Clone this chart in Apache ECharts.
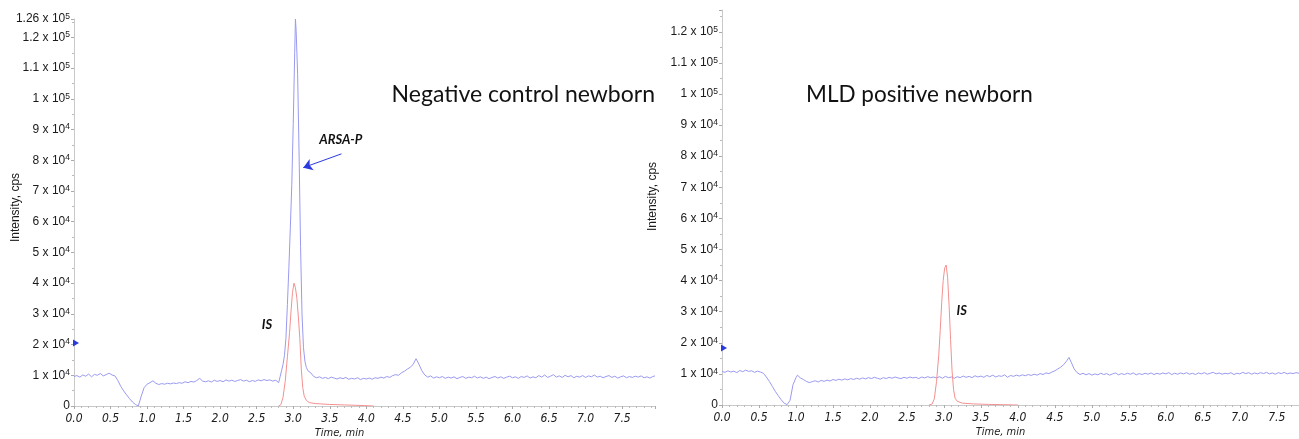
<!DOCTYPE html>
<html>
<head>
<meta charset="utf-8">
<script src="https://cdn.jsdelivr.net/npm/echarts@6/dist/echarts.min.js"></script>
<style>
html,body{margin:0;padding:0;background:#fff;}
#c{width:1299px;height:439px;}
</style>
</head>
<body>
<div id="c"></div>
<script>
// Intensity values in thousands of cps (k cps); time in minutes
const leftBlue = [
[0.00,9.6],[0.04,9.9],[0.08,9.4],[0.12,10.1],[0.16,9.7],[0.20,10.4],[0.24,9.5],[0.28,10.3],[0.32,10.0],[0.36,10.6],
[0.40,9.8],[0.44,10.2],[0.48,10.7],[0.52,10.1],[0.56,9.8],[0.60,8.3],[0.64,6.4],[0.68,4.9],[0.72,3.6],[0.76,2.4],
[0.80,1.3],[0.84,0.5],[0.88,0.0],[0.92,3.2],[0.96,6.0],[1.00,7.1],[1.04,7.6],[1.08,8.2],[1.12,7.4],[1.16,7.0],
[1.20,7.3],[1.24,7.1],[1.28,7.4],[1.32,7.2],[1.36,7.5],[1.40,7.3],[1.44,7.6],[1.48,7.4],[1.52,7.9],[1.56,7.6],
[1.60,8.0],[1.64,7.8],[1.68,8.3],[1.72,9.0],[1.76,8.1],[1.80,7.9],[1.84,8.2],[1.88,7.8],[1.92,8.4],[1.96,8.0],
[2.00,8.3],[2.04,7.9],[2.08,8.5],[2.12,8.1],[2.16,8.4],[2.20,8.0],[2.24,8.3],[2.28,8.6],[2.32,8.1],[2.36,8.4],
[2.40,7.9],[2.44,8.3],[2.48,8.0],[2.52,8.5],[2.56,8.2],[2.60,8.6],[2.64,8.3],[2.68,8.5],[2.72,8.1],[2.76,8.4],
[2.80,7.6],[2.82,9.5],[2.84,11.5],[2.86,13.5],[2.88,16.5],[2.90,22],[2.92,33],[2.94,45],[2.96,58],[2.98,72],
[3.00,92],[3.02,115],[3.03,126],[3.04,122],[3.06,108],[3.08,82],[3.10,52],[3.12,30],[3.14,19],[3.16,14.5],
[3.18,12.5],[3.20,11.5],[3.24,10.8],[3.28,9.6],[3.32,9.2],[3.36,9.5],[3.40,9.0],[3.44,9.3],[3.48,8.9],[3.52,9.4],
[3.56,9.1],[3.60,8.8],[3.64,9.2],[3.68,8.9],[3.72,9.3],[3.76,8.7],[3.80,9.0],[3.84,8.8],[3.88,9.2],[3.92,8.6],
[3.96,9.0],[4.00,8.8],[4.04,9.1],[4.08,8.7],[4.12,9.2],[4.16,9.0],[4.20,9.4],[4.24,9.1],[4.28,9.6],[4.32,9.3],
[4.36,9.9],[4.40,10.2],[4.44,10.0],[4.48,10.8],[4.52,11.3],[4.56,12.0],[4.60,12.6],[4.64,13.5],[4.68,15.4],[4.72,13.6],
[4.76,11.5],[4.80,10.1],[4.84,9.4],[4.88,9.8],[4.92,9.1],[4.96,9.5],[5.00,9.2],[5.04,9.6],[5.08,9.0],[5.12,9.4],
[5.16,9.1],[5.20,9.5],[5.24,8.9],[5.28,9.3],[5.32,9.6],[5.36,9.0],[5.40,9.4],[5.44,9.2],[5.48,9.7],[5.52,9.1],
[5.56,9.5],[5.60,9.0],[5.64,9.4],[5.68,8.9],[5.72,9.3],[5.76,9.6],[5.80,9.1],[5.84,9.5],[5.88,9.0],[5.92,9.4],
[5.96,9.7],[6.00,9.2],[6.04,9.5],[6.08,9.0],[6.12,9.6],[6.16,9.3],[6.20,9.8],[6.24,9.1],[6.28,9.5],[6.32,9.2],
[6.36,9.9],[6.40,9.4],[6.44,10.1],[6.48,9.3],[6.52,9.7],[6.56,10.2],[6.60,9.4],[6.64,9.8],[6.68,9.3],[6.72,10.0],
[6.76,9.5],[6.80,9.9],[6.84,9.2],[6.88,9.7],[6.92,9.4],[6.96,9.9],[7.00,9.3],[7.04,9.8],[7.08,9.5],[7.12,10.1],
[7.16,9.4],[7.20,9.7],[7.24,9.2],[7.28,9.6],[7.32,9.9],[7.36,9.3],[7.40,9.7],[7.44,9.1],[7.48,9.5],[7.52,9.8],
[7.56,9.2],[7.60,9.6],[7.64,9.3],[7.68,9.7],[7.72,9.4],[7.76,9.8],[7.80,9.2],[7.84,9.5],[7.88,9.1],[7.92,9.6],[7.95,9.8]
];
const leftRed = [
[2.80,0],[2.83,0.4],[2.86,2.8],[2.89,8],[2.92,16],[2.95,24],[2.97,31],[2.99,37],[3.01,40],[3.03,38.5],
[3.05,35],[3.07,29],[3.09,22],[3.11,12],[3.13,6],[3.15,3.2],[3.18,1.8],[3.22,1.1],[3.30,0.8],[3.50,0.5],
[3.70,0.35],[3.90,0.2],[4.10,0]
];
const rightBlue = [
[0.00,10.8],[0.04,10.5],[0.08,11.0],[0.12,10.6],[0.16,10.9],[0.20,10.4],[0.24,11.1],[0.28,10.7],[0.32,11.2],[0.36,10.8],
[0.40,11.0],[0.44,10.5],[0.48,10.9],[0.52,10.6],[0.56,10.2],[0.60,9.0],[0.64,7.6],[0.68,6.0],[0.72,4.4],[0.76,3.0],
[0.80,1.7],[0.84,0.6],[0.88,0.1],[0.92,1.5],[0.96,6.5],[1.00,8.8],[1.02,9.6],[1.06,8.7],[1.10,8.2],[1.14,7.6],
[1.18,7.2],[1.22,7.5],[1.26,7.8],[1.30,7.4],[1.34,7.9],[1.38,7.6],[1.42,8.0],[1.46,7.7],[1.50,8.2],[1.54,7.9],
[1.58,8.3],[1.62,8.0],[1.66,8.4],[1.70,8.1],[1.74,8.5],[1.78,8.2],[1.82,8.6],[1.86,8.3],[1.90,8.7],[1.94,8.4],
[1.98,8.8],[2.02,8.5],[2.06,8.9],[2.10,8.6],[2.14,8.3],[2.18,8.8],[2.22,8.5],[2.26,8.9],[2.30,8.6],[2.34,9.0],
[2.38,8.7],[2.42,8.5],[2.46,8.9],[2.50,8.6],[2.54,9.0],[2.58,8.7],[2.62,8.9],[2.66,8.5],[2.70,9.0],[2.74,8.7],
[2.78,9.1],[2.82,8.8],[2.86,9.0],[2.90,8.7],[2.94,9.1],[2.98,8.6],[3.02,9.2],[3.06,8.8],[3.10,9.0],[3.14,8.6],
[3.18,9.1],[3.22,8.8],[3.26,9.3],[3.30,8.9],[3.34,9.2],[3.38,8.8],[3.42,9.4],[3.46,9.0],[3.50,9.3],[3.54,8.9],
[3.58,9.5],[3.62,9.1],[3.66,9.6],[3.70,9.0],[3.74,9.4],[3.78,9.2],[3.82,9.7],[3.86,8.9],[3.90,9.5],[3.94,9.2],
[3.98,9.6],[4.02,9.3],[4.06,9.7],[4.10,9.4],[4.14,9.8],[4.18,9.5],[4.22,9.9],[4.26,9.6],[4.30,10.1],[4.34,9.8],
[4.38,10.3],[4.42,10.1],[4.46,10.6],[4.50,11.0],[4.54,11.6],[4.58,12.2],[4.62,13.0],[4.66,14.2],[4.69,15.3],[4.72,13.8],
[4.76,11.6],[4.80,10.4],[4.84,9.8],[4.88,10.2],[4.92,9.7],[4.96,10.1],[5.00,9.6],[5.04,10.0],[5.08,9.7],[5.12,10.2],
[5.16,9.8],[5.20,10.1],[5.24,9.6],[5.28,10.0],[5.32,10.3],[5.36,9.7],[5.40,10.1],[5.44,9.8],[5.48,10.2],[5.52,9.9],
[5.56,10.3],[5.60,9.7],[5.64,10.1],[5.68,9.8],[5.72,10.2],[5.76,9.9],[5.80,10.3],[5.84,9.8],[5.88,10.2],[5.92,9.9],
[5.96,10.3],[6.00,10.0],[6.04,10.4],[6.08,9.8],[6.12,10.2],[6.16,9.9],[6.20,10.3],[6.24,10.0],[6.28,10.4],[6.32,9.9],
[6.36,10.2],[6.40,9.8],[6.44,10.3],[6.48,10.0],[6.52,10.4],[6.56,9.9],[6.60,10.2],[6.64,10.5],[6.68,10.0],[6.72,10.3],
[6.76,9.9],[6.80,10.2],[6.84,10.0],[6.88,10.4],[6.92,9.8],[6.96,10.2],[7.00,10.0],[7.04,10.5],[7.08,10.1],[7.12,10.4],
[7.16,9.9],[7.20,10.3],[7.24,10.0],[7.28,10.4],[7.32,10.1],[7.36,10.5],[7.40,10.0],[7.44,10.3],[7.48,9.9],[7.52,10.4],
[7.56,10.1],[7.60,10.5],[7.64,10.0],[7.68,10.3],[7.72,10.1],[7.76,10.4],[7.80,10.2]
];
const rightRed = [
[2.80,0],[2.84,0.3],[2.87,2.0],[2.90,7.5],[2.93,16],[2.95,24],[2.97,33],[2.99,40],[3.01,44],[3.03,45],
[3.05,41],[3.07,32],[3.09,21],[3.11,11],[3.13,5],[3.15,2.2],[3.18,1.2],[3.25,0.6],[3.40,0.35],[3.60,0.2],
[3.80,0.1],[4.00,0]
];

// Tick labels
const xTickValues = [0,0.5,1,1.5,2,2.5,3,3.5,4,4.5,5,5.5,6,6.5,7,7.5];
const xTickLabels = ['0.0','0.5','1.0','1.5','2.0','2.5','3.0','3.5','4.0','4.5','5.0','5.5','6.0','6.5','7.0','7.5'];
const yTickValuesLeft = [0,10,20,30,40,50,60,70,80,90,100,110,120,126];
const yMantLeft = ['0','1','2','3','4','5','6','7','8','9','1','1.1','1.2','1.26'];
const yExpLeft  = ['','4','4','4','4','4','4','4','4','4','5','5','5','5'];
const yTickValuesRight = [0,10,20,30,40,50,60,70,80,90,100,110,120];
const yMantRight = ['0','1','2','3','4','5','6','7','8','9','1','1.1','1.2'];
const yExpRight  = ['','4','4','4','4','4','4','4','4','4','5','5','5'];

// Titles
const titleLeft = 'Negative control newborn';
const titleRight = 'MLD positive newborn';

const BLUE = '#9a9af0', RED = '#f39090', ARROW = '#2a3ae0';
const AXIS = '#c9c9c9', TXT = '#1a1a1a';

function yFmt(values, mant, exp) {
  return function (v) {
    const i = values.findIndex(x => Math.abs(x - v) < 1e-6);
    if (i < 0) return '';
    return exp[i] ? '{m|' + mant[i] + ' x 10}{e|' + exp[i] + '}' : '{m|' + mant[i] + '}';
  };
}
function xFmt(v) {
  const i = xTickValues.findIndex(x => Math.abs(x - v) < 1e-6);
  return i < 0 ? '' : xTickLabels[i];
}
const richY = {
  m: { fontSize: 12, fontFamily: 'Liberation Sans, Arial, sans-serif', color: TXT, lineHeight: 14 },
  e: { fontSize: 8.5, fontFamily: 'Liberation Sans, Arial, sans-serif', color: TXT, lineHeight: 8, verticalAlign: 'top' }
};

function xAxisCfg(gi, max, namePad) {
  return {
    type: 'value', gridIndex: gi, min: 0, max: max, interval: 0.5,
    name: 'Time, min', nameLocation: 'middle', nameGap: 22, nameMoveOverlap: false,
    nameTextStyle: { fontStyle: 'italic', fontSize: 11, fontFamily: 'Liberation Sans Narrow, DejaVu Sans Condensed, sans-serif', color: TXT, padding: namePad },
    axisLine: { show: true, lineStyle: { color: AXIS, width: 1 } },
    axisTick: { show: true, length: 3, lineStyle: { color: '#aaa' } },
    minorTick: { show: true, splitNumber: 5, length: 2, lineStyle: { color: '#bbb' } },
    splitLine: { show: false },
    axisLabel: { formatter: xFmt, showMaxLabel: false, fontStyle: 'italic', fontSize: 12, margin: 7,
      fontFamily: 'Liberation Sans Narrow, DejaVu Sans Condensed, sans-serif', color: TXT }
  };
}
function yAxisCfg(gi, max, vals, mant, exp, gap, namePad, showMax) {
  return {
    type: 'value', gridIndex: gi, min: 0, max: max, interval: 10,
    name: 'Intensity, cps', nameLocation: 'middle', nameGap: gap, nameRotate: 90, nameMoveOverlap: false,
    nameTextStyle: { fontSize: 12, fontFamily: 'Liberation Sans, Arial, sans-serif', color: TXT, padding: namePad },
    axisLine: { show: true, lineStyle: { color: AXIS, width: 1 } },
    axisTick: { show: true, length: 3, lineStyle: { color: '#aaa' } },
    minorTick: { show: true, splitNumber: 2, length: 2, lineStyle: { color: '#bbb' } },
    splitLine: { show: false },
    axisLabel: { formatter: yFmt(vals, mant, exp), rich: richY, margin: 4, showMaxLabel: showMax }
  };
}
function lineSeries(xi, data, color, extra) {
  return Object.assign({
    type: 'line', xAxisIndex: xi, yAxisIndex: xi, data: data, showSymbol: false, symbol: 'none',
    lineStyle: { color: color, width: 1 }, itemStyle: { color: color }, silent: true, animation: false
  }, extra || {});
}
const annoLabel = { show: true, position: 'inside', fontStyle: 'italic', fontWeight: 'bold', fontSize: 13,
  fontFamily: 'Lato, Open Sans, sans-serif', color: '#111' };

const chart = echarts.init(document.getElementById('c'), null, { renderer: 'canvas' });
chart.setOption({
  animation: false,
  backgroundColor: '#fff',
  title: [
    { text: titleLeft, right: 644, top: 83, padding: 0, textStyle: { fontSize: 23, fontWeight: 'normal', fontFamily: 'Lato, Open Sans, sans-serif', color: '#111' } },
    { text: titleRight, left: 806, top: 83, padding: 0, textStyle: { fontSize: 22.5, fontWeight: 'normal', fontFamily: 'Lato, Open Sans, sans-serif', color: '#111' } }
  ],
  grid: [
    { left: 74, width: 581, top: 19, height: 387, containLabel: false, outerBoundsMode: 'none' },
    { left: 722, width: 577, top: 10, height: 395, containLabel: false, outerBoundsMode: 'none' }
  ],
  xAxis: [ xAxisCfg(0, 7.95, [0, 50, 0, 0]), xAxisCfg(1, 7.8, [0, 20, 0, 0]) ],
  yAxis: [
    yAxisCfg(0, 126, yTickValuesLeft, yMantLeft, yExpLeft, 52, [0, 0, 0, 10], true),
    yAxisCfg(1, 127, yTickValuesRight, yMantRight, yExpRight, 63, [0, 0, 0, 22], false)
  ],
  series: [
    lineSeries(0, leftBlue, BLUE, {
      markLine: { silent: true, symbol: ['none', 'arrow'], symbolSize: 9, label: { show: false },
        lineStyle: { color: ARROW, width: 1, type: 'solid' }, emphasis: { disabled: true },
        data: [[{ coord: [3.66, 82.1] }, { coord: [3.137, 77.6] }]] },
      markPoint: { silent: true, data: [
        { coord: [3.65, 86.6], symbol: 'circle', symbolSize: 0, label: Object.assign({ formatter: 'ARSA-P' }, annoLabel) },
        { coord: [2.64, 26.4], symbol: 'circle', symbolSize: 0, label: Object.assign({ formatter: 'IS' }, annoLabel) },
        { coord: [0, 20.5], symbol: 'triangle', symbolRotate: -90, symbolSize: [7, 6], symbolOffset: [2, 0],
          itemStyle: { color: ARROW }, label: { show: false } }
      ] }
    }),
    lineSeries(0, leftRed, RED),
    lineSeries(1, rightBlue, BLUE, {
      markPoint: { silent: true, data: [
        { coord: [0, 18.3], symbol: 'triangle', symbolRotate: -90, symbolSize: [7, 6], symbolOffset: [2, 0],
          itemStyle: { color: ARROW }, label: { show: false } }
      ] }
    }),
    lineSeries(1, rightRed, RED, {
      markPoint: { silent: true, data: [
        { coord: [3.24, 30.2], symbol: 'circle', symbolSize: 0, label: Object.assign({ formatter: 'IS' }, annoLabel) }
      ] }
    })
  ]
});
</script>
</body>
</html>
